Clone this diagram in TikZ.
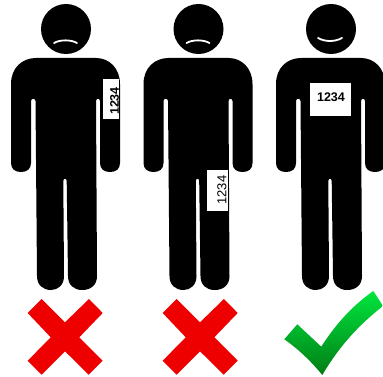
\documentclass[tikz,border=0pt]{standalone}
\usepackage{fontspec}
\setmainfont{Liberation Sans}
\definecolor{crossred}{RGB}{238,0,0}
\definecolor{tickhi}{RGB}{0,230,62}
\definecolor{tickmid}{RGB}{0,184,48}
\definecolor{ticklo}{RGB}{0,125,20}
\usetikzlibrary{positioning}
\begin{document}
\begin{tikzpicture}[
    x=1pt, y=-1pt,
    tagbox/.style={rectangle, fill=white, inner sep=0pt},
    tagnum/.style={inner sep=0pt, font=\bfseries\fontsize{12.5}{12.5}\selectfont},
    mouth/.style={draw=white, line width=1.8pt, line cap=round},
    cross/.style={fill=crossred},
    man/.pic={
      \fill[black] (66,29) circle (25);
      \fill[black] (36,58) -- (96,58) .. controls (109,58) and (120,68) .. (120,84)
        -- (120,163) .. controls (120,169) and (116,172) .. (110,172)
        .. controls (104,172) and (100,169) .. (100,163)
        -- (100,101) .. controls (100,98) and (96,98) .. (96,101)
        -- (97,276) .. controls (97,285) and (91,290) .. (82,290)
        .. controls (74,290) and (68,285) .. (68,276)
        -- (66.7,181) .. controls (66.7,178) and (63.3,178) .. (63.3,181)
        -- (64,276) .. controls (64,285) and (58,290) .. (51,290)
        .. controls (43,290) and (37,285) .. (37,276)
        -- (35.5,101) .. controls (35.5,98) and (31,98) .. (31,101)
        -- (31,163) .. controls (31,169) and (27,172) .. (21,172)
        .. controls (15,172) and (11,169) .. (11,163)
        -- (11,84) .. controls (11,68) and (22,58) .. (36,58) -- cycle;
    }
  ]
    \useasboundingbox (0,0) rectangle (383,377);
    \fill[white] (0,0) rectangle (383,377);

    % Figures
    \pic at (0,0) {man};
    \pic at (132.5,0) {man};
    \pic at (265,0) {man};

    % Mouths
    \draw[mouth] (54,43) .. controls (60,39.5) and (71,39.5) .. (77,43);
    \draw[mouth] (186.5,43) .. controls (192.5,39.5) and (203.5,39.5) .. (209.5,43);
    \draw[mouth] (318,38) .. controls (325,42) and (335,42) .. (342,38);

    % Number tags
    \node[tagbox, minimum width=16pt, minimum height=40pt] (armtag) at (111,99) {};
    \node[tagnum, rotate=90] (armnum) at (114.5,101) {1234};
    \node[tagbox, minimum width=21pt, minimum height=41pt] (legtag) at (217.5,190.5) {};
    \node[tagnum, font=\fontsize{13}{13}\selectfont, rotate=90] (legnum) at (222,190) {1234};
    \node[tagbox, minimum width=41pt, minimum height=33pt] (chesttag) at (330.5,99.5) {};
    \node[tagnum] (chestnum) at (331,97) {1234};

    % Marks
    \fill[cross] (41.7,299) -- (65,322.3) -- (89,299) -- (102.7,313) -- (79.3,337.3)
      -- (102.7,360.7) -- (88.7,374.7) -- (65,351.3) -- (41.7,374.7) -- (27.7,360.7)
      -- (50.7,337.3) -- (27.7,313) -- cycle;
    \fill[cross] (176.7,299) -- (200,322.3) -- (224,299) -- (237.7,313) -- (214.3,337.3)
      -- (237.7,360.7) -- (223.7,374.7) -- (200,351.3) -- (176.7,374.7) -- (162.7,360.7)
      -- (185.7,337.3) -- (162.7,313) -- cycle;
    \shade[top color=tickhi, middle color=tickmid, bottom color=ticklo] (373.3,291) -- (383,306)
      .. controls (360,324) and (340,345) .. (322.3,375)
      .. controls (310,360) and (298,349) .. (284.3,339.3)
      -- (297.3,324.3) -- (321.3,346.7)
      .. controls (335,325) and (352,306) .. (373.3,291) -- cycle;
  \end{tikzpicture}
\end{document}
